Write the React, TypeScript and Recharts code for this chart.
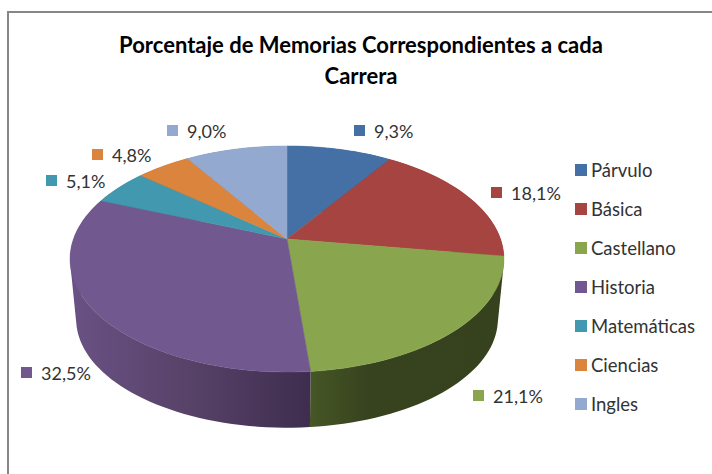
import React from 'react';
import { PieChart, Pie, Cell, Legend } from 'recharts';

const categories = ['Párvulo', 'Básica', 'Castellano', 'Historia', 'Matemáticas', 'Ciencias', 'Ingles'];
const percentages = [9.3, 18.1, 21.1, 32.5, 5.1, 4.8, 9.0];
const percentLabels = ['9,3%', '18,1%', '21,1%', '32,5%', '5,1%', '4,8%', '9,0%'];
const titleLines = ['Porcentaje de Memorias Correspondientes a cada', 'Carrera'];

const topColors = ['#4470a5', '#a64441', '#89a54e', '#71588f', '#4298af', '#db843d', '#93a9cf'];
const wallColors = ['#2c4a6e', '#6e2d2b', 'url(#wallGreen)', 'url(#wallPurple)', '#2b6474', '#915728', '#617089'];

// swatch top-left corner of each outside label
const labelSpots = [
  [354, 125],
  [491, 187],
  [473, 390],
  [21, 367],
  [46, 175],
  [92, 149],
  [167, 125],
];

const FONT = 'Lato, Carlito, sans-serif';
const CX = 287;
const CY = 239;
const DEPTH = 61;

const data = categories.map((name, i) => ({ name, value: percentages[i] }));

// tilted disc with perspective: the rear of the plate is squeezed
const rimPoint = (angle: number, scaleX: number, scaleY: number, yShift: number) => {
  const t = ((90 - angle) * Math.PI) / 180;
  const u = Math.sin(t);
  const v = Math.cos(t);
  const w = 1 + 0.177 * v;
  return [CX + (scaleX * 213.5 * u) / w, CY + yShift - (scaleY * 109.5 * v) / w];
};

const rimPath = (start: number, end: number, scaleX: number, scaleY: number, yShift: number) => {
  const pts: number[][] = [];
  const n = Math.max(2, Math.ceil(Math.abs(end - start) / 2));
  for (let i = 0; i <= n; i++) pts.push(rimPoint(start + ((end - start) * i) / n, scaleX, scaleY, yShift));
  return pts;
};

const toD = (pts: number[][]) => pts.map((p, i) => `${i ? 'L' : 'M'}${p[0].toFixed(2)} ${p[1].toFixed(2)}`).join(' ') + ' Z';

const area = (pts: number[][]) =>
  pts.reduce((sum, p, i) => {
    const q = pts[(i + 1) % pts.length];
    return sum + p[0] * q[1] - q[0] * p[1];
  }, 0);

const TopSlice = (props: any) => {
  const pts = [[CX, CY], ...rimPath(props.startAngle, props.endAngle, 1, 1, 0)];
  return <path d={toD(pts)} fill={props.fill} stroke={props.fill} strokeWidth={0.5} />;
};

// quads with one winding in a single path, so the outline follows the tangent at far left and right
const WallSlice = (props: any) => {
  const upper = rimPath(props.startAngle, props.endAngle, 1, 1, 0);
  const lower = rimPath(props.startAngle, props.endAngle, 0.972, 0.96, DEPTH);
  const d = upper
    .slice(1)
    .map((p, i) => {
      const quad = [upper[i], p, lower[i + 1], lower[i]];
      return toD(area(quad) < 0 ? quad.reverse() : quad);
    })
    .join(' ');
  return <path d={d} fill={props.fill} />;
};

const renderLabel = (props: any) => {
  const [x, y] = labelSpots[props.index];
  return (
    <g>
      <rect x={x} y={y} width={11} height={11} fill={topColors[props.index]} />
      <text x={x + 20} y={y + 13} fontFamily={FONT} fontSize={18} fill="#333">
        {percentLabels[props.index]}
      </text>
    </g>
  );
};

const renderLegend = () => (
  <div style={{ fontFamily: FONT, fontSize: 18.5, color: '#333' }}>
    {categories.map((name, i) => (
      <div key={name} style={{ height: 39, display: 'flex', alignItems: 'center' }}>
        <span style={{ width: 12, height: 12, background: topColors[i], marginRight: 4 }} />
        {name}
      </div>
    ))}
  </div>
);

export default function App() {
  return (
    <div style={{ position: 'absolute', left: 0, top: 0, width: 712, height: 474, background: '#fff', overflow: 'hidden' }}>
      <div style={{ position: 'absolute', left: 7, top: 11, right: -4, bottom: -4, border: '2px solid #868686' }} />
      <PieChart width={712} height={474} margin={{ top: 0, right: 0, bottom: 0, left: 0 }}>
        <defs>
          <linearGradient id="wallPurple" gradientUnits="userSpaceOnUse" x1="69" y1="0" x2="311" y2="0">
            <stop offset="0%" stopColor="#6a5285" />
            <stop offset="50%" stopColor="#574268" />
            <stop offset="100%" stopColor="#3e2d4f" />
          </linearGradient>
          <linearGradient id="wallGreen" gradientUnits="userSpaceOnUse" x1="311" y1="0" x2="505" y2="0">
            <stop offset="0%" stopColor="#465625" />
            <stop offset="30%" stopColor="#37421f" />
            <stop offset="100%" stopColor="#36411e" />
          </linearGradient>
        </defs>
        <text textAnchor="middle" fontFamily={FONT} fontWeight={700} fontSize={22} fill="#000">
          <tspan x={361} y={53}>{titleLines[0]}</tspan>
          <tspan x={361} y={84}>{titleLines[1]}</tspan>
        </text>
        <Pie
          data={data}
          dataKey="value"
          nameKey="name"
          cx={CX}
          cy={CY}
          outerRadius={100}
          startAngle={90}
          endAngle={-270}
          legendType="none"
          shape={WallSlice}
          isAnimationActive={false}
        >
          {categories.map((name, i) => (
            <Cell key={name} fill={wallColors[i]} />
          ))}
        </Pie>
        <Pie
          data={data}
          dataKey="value"
          nameKey="name"
          cx={CX}
          cy={CY}
          outerRadius={100}
          startAngle={90}
          endAngle={-270}
          shape={TopSlice}
          label={renderLabel}
          labelLine={false}
          isAnimationActive={false}
        >
          {categories.map((name, i) => (
            <Cell key={name} fill={topColors[i]} />
          ))}
        </Pie>
        <Legend
          layout="vertical"
          content={renderLegend}
          wrapperStyle={{ position: 'absolute', left: 575, top: 150, width: 130, bottom: 'auto', right: 'auto' }}
        />
      </PieChart>
    </div>
  );
}
